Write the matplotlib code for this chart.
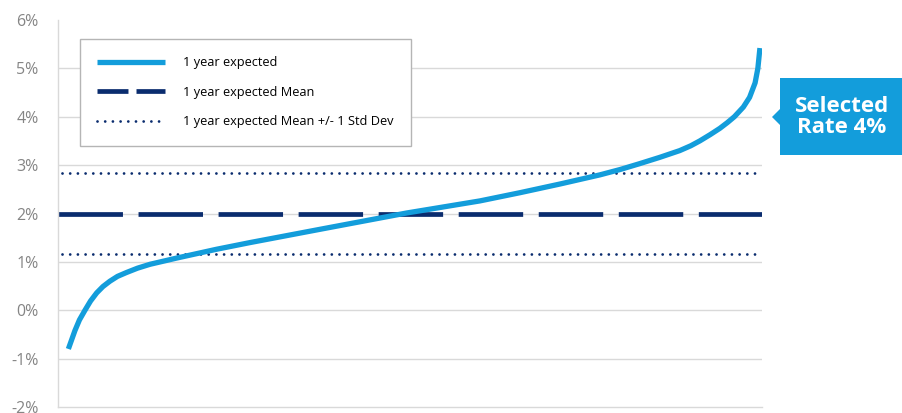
import numpy as np
import matplotlib.pyplot as plt
from matplotlib.lines import Line2D
from matplotlib.patches import Polygon

plt.rcParams['font.family'] = ['Open Sans', 'DejaVu Sans']

# expected 1-year rate across sorted scenarios (percentile of scenarios)
pct = [0, 0.95, 1.6, 2.4, 3.2, 4.1, 5.0, 6.0, 7.1, 8.4, 10, 11.8, 15.7, 21.4,
       26.3, 37, 48.9, 59.5, 65.3, 71.1, 76.9, 79.8, 82.6, 85.5, 88.4, 90,
       91.3, 92.8, 94.2, 95.3, 96.3, 97.6, 98.5, 99.3, 99.7, 100]
rate = [-0.8, -0.42, -0.2, 0.0, 0.19, 0.36, 0.49, 0.60, 0.70, 0.78, 0.87, 0.95,
        1.08, 1.26, 1.40, 1.69, 2.01, 2.26, 2.43, 2.61, 2.80, 2.91, 3.03, 3.16,
        3.30, 3.40, 3.50, 3.63, 3.76, 3.88, 4.0, 4.2, 4.4, 4.7, 5.0, 5.42]
mean_rate = 2.0
std_dev = 0.83
selected_rate = 4

light_blue = '#139ddb'
navy = '#0a2c6e'
grid_gray = '#d9d9d9'
tick_gray = '#858585'

fig = plt.figure(figsize=(9.02, 4.13), dpi=100)
ax = fig.add_axes([0.0643, 0.0145, 0.7805, 0.9371])

for y in range(-1, 6):
    ax.axhline(y, color=grid_gray, lw=1, zorder=0)

ax.plot(pct, rate, color=light_blue, lw=3.8, solid_capstyle='butt',
        solid_joinstyle='round', zorder=3)
ax.axhline(mean_rate, color=navy, lw=3.4, linestyle=(0, (13.65, 3.3)),
           zorder=2)
for y in (mean_rate - std_dev, mean_rate + std_dev):
    ax.plot([-0.9, 100.2], [y, y], color=navy, lw=2,
            linestyle=(0, (0.01, 2.76)), dash_capstyle='round', zorder=2)

ax.set_xlim(-1.5, 100.3)
ax.set_ylim(-2, 6)
ax.set_yticks(range(-2, 7))
ax.set_yticklabels([f'{v}%' for v in range(-2, 7)])
ax.set_xticks([])
ax.tick_params(axis='y', length=0, pad=14, labelsize=11.5, labelcolor=tick_gray)
for s in ('top', 'right'):
    ax.spines[s].set_visible(False)
for s in ('left', 'bottom'):
    ax.spines[s].set_color(grid_gray)
    ax.spines[s].set_linewidth(1)

handles = [
    Line2D([], [], color=light_blue, lw=3.8, solid_capstyle='butt'),
    Line2D([], [], color=navy, lw=3.4, linestyle=(0, (6.56, 1.7))),
    Line2D([], [], color=navy, lw=2, linestyle=(0, (0.01, 2.76)),
           dash_capstyle='round'),
]
labels = ['1 year expected', '1 year expected Mean',
          '1 year expected Mean +/- 1 Std Dev']
leg = fig.legend(handles, labels, loc='upper left',
                 bbox_to_anchor=(80 / 902, 1 - 39 / 413), fontsize=9.2,
                 handlelength=5.3, handletextpad=1.4, labelspacing=1.3,
                 borderpad=1.35, borderaxespad=0, fancybox=False,
                 framealpha=1, edgecolor='#b5b5b5')
leg.get_frame().set_linewidth(1)

# callout box for the selected rate
pts = np.array([[780, 78], [902, 78], [902, 155], [780, 155], [780, 125],
                [772, 117], [780, 109]], dtype=float)
pts[:, 0] /= 902
pts[:, 1] = 1 - pts[:, 1] / 413
fig.patches.append(Polygon(pts, closed=True, transform=fig.transFigure,
                           facecolor=light_blue, edgecolor='none'))
fig.text(842 / 902, 1 - 117 / 413, f'Selected\nRate {selected_rate}%',
         ha='center', va='center', color='white', fontsize=16,
         fontweight='bold', linespacing=1.0)

fig.savefig('out.png', dpi=100)
